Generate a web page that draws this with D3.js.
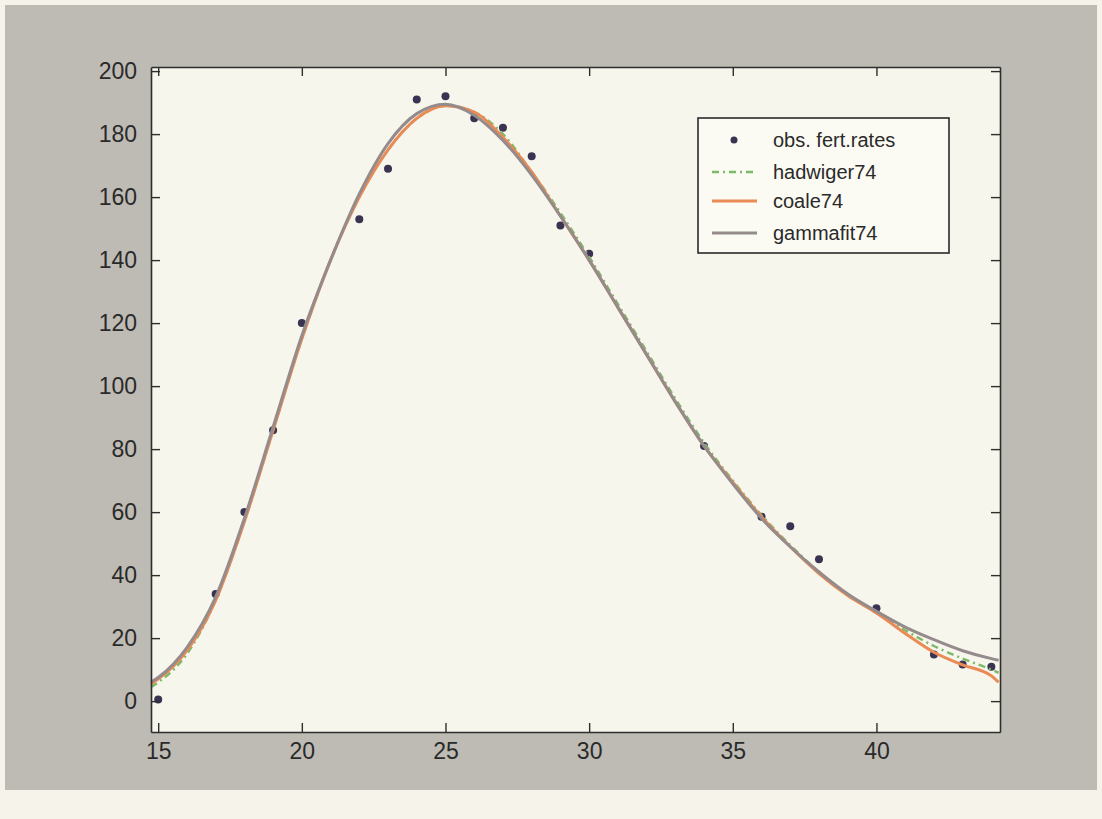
<!DOCTYPE html>
<html>
<head>
<meta charset="utf-8">
<script src="https://cdn.jsdelivr.net/npm/d3@7"></script>
<style>
  body { margin: 0; background: #f6f4ea; }
  svg { display: block; }
  text { font-family: "Liberation Sans", Arial, sans-serif; fill: #2a2a2a; }
</style>
</head>
<body>
<svg width="1102" height="819"></svg>
<script>
// observed fertility rates
const obsAges = [15, 17, 18, 19, 20, 22, 23, 24, 25, 26, 27, 28, 29, 30, 34, 36, 37, 38, 40, 42, 43, 44];
const obsRates = [0.5, 34, 60, 86, 120, 153, 169, 191, 192, 185, 182, 173, 151, 142, 81, 58.5, 55.5, 45, 29.5, 14.8, 11.6, 10.9];

const fitAges = [14.75, 15, 16, 17, 18, 19, 20, 21, 22, 23, 24, 25, 26, 27, 28, 29, 30, 31, 32, 33, 34, 35, 36, 37, 38, 39, 40, 41, 42, 43, 44, 44.25];
const hadwiger74 = [4.5, 6, 15, 32, 57, 86, 115, 140, 160, 175, 185, 189, 187, 180, 168, 155, 141, 126, 111, 96, 82, 70, 59, 49.5, 41, 34, 28, 22.5, 17.5, 13.5, 10, 9];
const coale74 = [5.5, 7, 16, 32, 57, 86, 115, 140, 160, 175, 185, 189, 187, 179, 168, 154, 140, 125, 110, 95, 81, 69.5, 58.5, 49, 40.5, 33.5, 28, 21.5, 15.5, 11.5, 8, 6];
const gammafit74 = [6, 7.5, 17, 33, 58, 87, 116, 140, 161, 177, 186.5, 189.5, 186, 178, 167, 154, 140, 125, 110, 95, 81, 69, 58, 49, 41, 34, 28.5, 23.5, 19.5, 16, 13.5, 13];

const xTicks = [15, 20, 25, 30, 35, 40];
const yTicks = [0, 20, 40, 60, 80, 100, 120, 140, 160, 180, 200];

const svg = d3.select("svg");
const pLeft = 151, pRight = 1000, pTop = 67, pBottom = 732;

// grey figure background
svg.append("rect").attr("x", 5).attr("y", 5).attr("width", 1092).attr("height", 785).attr("fill", "#bebbb4");
svg.append("rect").attr("x", pLeft).attr("y", pTop).attr("width", pRight - pLeft).attr("height", pBottom - pTop).attr("fill", "#f6f6ec");

const x = d3.scaleLinear().domain([14.75, 44.3]).range([pLeft, pRight]);
const y = d3.scaleLinear().domain([-9.8, 201.3]).range([pBottom, pTop]);

// points first, lines on top
svg.append("g").selectAll("circle")
  .data(obsAges.map((a, i) => ({ age: a, rate: obsRates[i] })))
  .enter()
  .append("circle")
  .attr("cx", d => x(d.age))
  .attr("cy", d => y(d.rate))
  .attr("r", 4)
  .attr("fill", "#3a3452");

const line = d3.line().x(d => x(d[0])).y(d => y(d[1])).curve(d3.curveMonotoneX);
const series = [
  { name: "hadwiger74", vals: hadwiger74, color: "#7cba6a", width: 2.5, dash: "7,4,2,4" },
  { name: "coale74", vals: coale74, color: "#ea8a55", width: 3, dash: null },
  { name: "gammafit74", vals: gammafit74, color: "#958b8c", width: 3, dash: null }
];

svg.append("g").selectAll("path")
  .data(series)
  .enter()
  .append("path")
  .attr("d", s => line(fitAges.map((a, i) => [a, s.vals[i]])))
  .attr("fill", "none")
  .attr("stroke", s => s.color)
  .attr("stroke-width", s => s.width)
  .attr("stroke-dasharray", s => s.dash)
  .attr("stroke-linejoin", "round");

// axes, MATLAB style ticks pointing inward
const axB = svg.append("g").attr("transform", `translate(0,${pBottom})`)
  .call(d3.axisBottom(x).tickValues(xTicks).tickSizeInner(-9).tickSizeOuter(0).tickPadding(11));
const axL = svg.append("g").attr("transform", `translate(${pLeft},0)`)
  .call(d3.axisLeft(y).tickValues(yTicks).tickSizeInner(-9).tickSizeOuter(0).tickPadding(14));
const axT = svg.append("g").attr("transform", `translate(0,${pTop})`)
  .call(d3.axisTop(x).tickValues(xTicks).tickSizeInner(-9).tickSizeOuter(0).tickFormat(""));
const axR = svg.append("g").attr("transform", `translate(${pRight},0)`)
  .call(d3.axisRight(y).tickValues(yTicks).tickSizeInner(-9).tickSizeOuter(0).tickFormat(""));

[axB, axL, axT, axR].forEach(g => {
  g.select(".domain").attr("stroke", "#2e2e2e").attr("stroke-width", 1.6);
  g.selectAll(".tick line").attr("stroke", "#2e2e2e").attr("stroke-width", 1.4);
  g.selectAll(".tick text").attr("font-size", 23).attr("fill", "#2a2a2a")
    .attr("font-family", "\"Liberation Sans\", Arial, sans-serif");
});

// legend
const lg = svg.append("g").attr("transform", "translate(698,118)");
lg.append("rect").attr("width", 251).attr("height", 135)
  .attr("fill", "#fbfbf3").attr("stroke", "#2a2a2a").attr("stroke-width", 1.6);

const legendItems = [
  { name: "obs. fert.rates", type: "dot", color: "#3a3452" },
  { name: "hadwiger74", type: "line", color: "#7cba6a", dash: "7,4,2,4", width: 2.5 },
  { name: "coale74", type: "line", color: "#ea8a55", width: 3 },
  { name: "gammafit74", type: "line", color: "#958b8c", width: 3 }
];
const rowY = [22, 54, 83, 115];

legendItems.forEach((d, i) => {
  const row = lg.append("g").attr("transform", `translate(0,${rowY[i]})`);
  if (d.type === "dot") {
    row.append("circle").attr("cx", 36).attr("cy", 0).attr("r", 3.5).attr("fill", d.color);
  } else {
    row.append("line").attr("x1", 14).attr("x2", 59).attr("y1", 0).attr("y2", 0)
      .attr("stroke", d.color).attr("stroke-width", d.width)
      .attr("stroke-dasharray", d.dash || null);
  }
  row.append("text").attr("x", 75).attr("y", 0).attr("dy", "0.35em")
    .attr("font-size", 20).text(d.name);
});
</script>
</body>
</html>
